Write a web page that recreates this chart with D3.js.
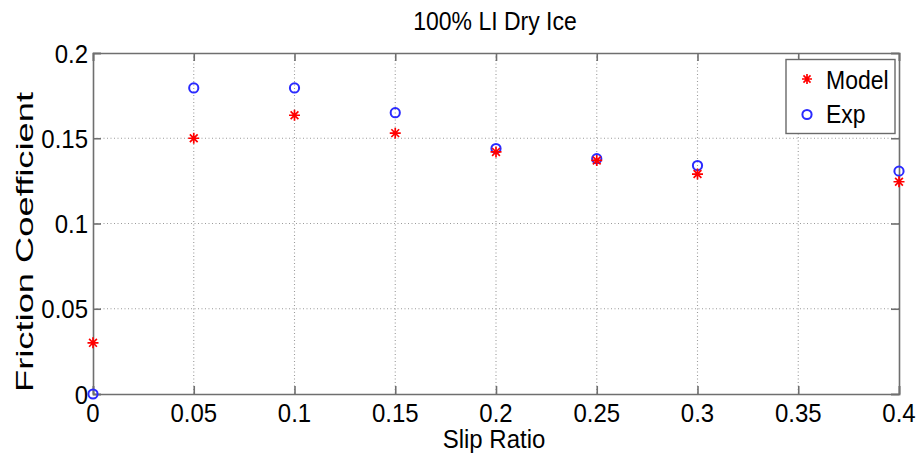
<!DOCTYPE html>
<html>
<head>
<meta charset="utf-8">
<script src="https://cdn.jsdelivr.net/npm/d3@7"></script>
<style>
  html, body { margin: 0; padding: 0; background: #fff; }
  svg { display: block; }
  text { font-family: Arial, "Liberation Sans", Helvetica, sans-serif; fill: #000; }
</style>
</head>
<body>
<svg id="chart" width="919" height="458"></svg>
<script>
// Slip ratio samples and friction coefficients
const slipRatio = [0, 0.05, 0.1, 0.15, 0.2, 0.25, 0.3, 0.4];
const modelValues = [0.030, 0.150, 0.1635, 0.153, 0.142, 0.137, 0.129, 0.1245];
const expValues = [0.000, 0.1795, 0.1795, 0.165, 0.144, 0.138, 0.134, 0.1307];
const xTicks = [0, 0.05, 0.1, 0.15, 0.2, 0.25, 0.3, 0.35, 0.4];
const xTickLabels = ["0", "0.05", "0.1", "0.15", "0.2", "0.25", "0.3", "0.35", "0.4"];
const yTicks = [0, 0.05, 0.1, 0.15, 0.2];
const yTickLabels = ["0", "0.05", "0.1", "0.15", "0.2"];
const seriesNames = ["Model", "Exp"];
const titleText = "100% LI Dry Ice";
const xLabelText = "Slip Ratio";
const yLabelText = "Friction Coefficient";

const svg = d3.select("#chart");
const plot = { left: 93, right: 899, top: 53, bottom: 394 };
const vStretch = 1.1;

const x = d3.scaleLinear().domain([0, 0.4]).range([plot.left, plot.right]);
const y = d3.scaleLinear().domain([0, 0.2]).range([plot.bottom, plot.top]);

const axisColor = "#6f6f6f";
const gridColor = "#9a9a9a";

// dotted grid
const grid = svg.append("g");
grid.selectAll("line.gx").data(xTicks.slice(1, -1)).join("line")
  .attr("x1", d => x(d)).attr("x2", d => x(d))
  .attr("y1", plot.top).attr("y2", plot.bottom)
  .attr("stroke", gridColor).attr("stroke-width", 1.1).attr("stroke-dasharray", "1,2.5");
grid.selectAll("line.gy").data(yTicks.slice(1, -1)).join("line")
  .attr("x1", plot.left).attr("x2", plot.right)
  .attr("y1", d => y(d)).attr("y2", d => y(d))
  .attr("stroke", gridColor).attr("stroke-width", 1.1).attr("stroke-dasharray", "1,2.5");

// axes with inward ticks on all four sides
const tickLen = 8;
const bottomAxis = d3.axisBottom(x).tickValues(xTicks).tickSize(-tickLen).tickFormat("");
const topAxis = d3.axisTop(x).tickValues(xTicks).tickSize(-tickLen).tickFormat("");
const leftAxis = d3.axisLeft(y).tickValues(yTicks).tickSize(-tickLen).tickFormat("");
const rightAxis = d3.axisRight(y).tickValues(yTicks).tickSize(-tickLen).tickFormat("");

function styleAxis(g) {
  g.selectAll("path").attr("stroke", axisColor).attr("stroke-width", 1.6);
  g.selectAll("line").attr("stroke", axisColor).attr("stroke-width", 1.6);
}
svg.append("g").attr("transform", `translate(0,${plot.bottom})`).call(bottomAxis).call(styleAxis);
svg.append("g").attr("transform", `translate(0,${plot.top})`).call(topAxis).call(styleAxis);
svg.append("g").attr("transform", `translate(${plot.left},0)`).call(leftAxis).call(styleAxis);
svg.append("g").attr("transform", `translate(${plot.right},0)`).call(rightAxis).call(styleAxis);

// tick labels
svg.append("g").selectAll("text").data(xTicks).join("text")
  .attr("text-anchor", "middle")
  .attr("font-size", 24)
  .attr("transform", d => `translate(${x(d)},421.5) scale(1,${vStretch})`)
  .text((d, i) => xTickLabels[i]);
svg.append("g").selectAll("text").data(yTicks).join("text")
  .attr("text-anchor", "end")
  .attr("font-size", 24)
  .attr("transform", d => `translate(88,${y(d) + 9.5}) scale(1,${vStretch})`)
  .text((d, i) => yTickLabels[i]);

// title and axis labels
svg.append("text").attr("text-anchor", "middle").attr("font-size", 23)
  .attr("transform", `translate(495,30) scale(1,${vStretch})`).text(titleText);
svg.append("text").attr("text-anchor", "middle").attr("font-size", 24)
  .attr("transform", `translate(494,448) scale(1,${vStretch})`).text(xLabelText);
svg.append("text").attr("text-anchor", "middle").attr("font-size", 24.5)
  .attr("textLength", 300).attr("lengthAdjust", "spacingAndGlyphs")
  .attr("transform", `translate(33,242) rotate(-90)`).text(yLabelText);

// marker drawers
const red = "#ff0000";
const blue = "#2a2aff";
function asterisk(g, cx, cy, s) {
  const d = s * 0.707;
  const p = `M${cx - s},${cy}L${cx + s},${cy}M${cx},${cy - s}L${cx},${cy + s}` +
            `M${cx - d},${cy - d}L${cx + d},${cy + d}M${cx - d},${cy + d}L${cx + d},${cy - d}`;
  g.append("path").attr("d", p).attr("stroke", red).attr("stroke-width", 1.7).attr("fill", "none");
}
function circleMark(g, cx, cy) {
  g.append("circle").attr("cx", cx).attr("cy", cy).attr("r", 4.6)
    .attr("fill", "none").attr("stroke", blue).attr("stroke-width", 2);
}

// data markers
const marks = svg.append("g");
slipRatio.forEach((s, i) => circleMark(marks, x(s), y(expValues[i])));
slipRatio.forEach((s, i) => asterisk(marks, x(s), y(modelValues[i]), 5.5));

// legend
const legend = svg.append("g");
legend.append("rect").attr("x", 786).attr("y", 59.5).attr("width", 109).attr("height", 74)
  .attr("fill", "#fff").attr("stroke", "#6a6a6a").attr("stroke-width", 1.4);
asterisk(legend, 807, 79, 5);
circleMark(legend, 807, 114.5);
legend.append("text").attr("font-size", 23)
  .attr("transform", `translate(826,88.5) scale(1,1.15)`).text(seriesNames[0]);
legend.append("text").attr("font-size", 23)
  .attr("transform", `translate(826,122.5) scale(1,1.15)`).text(seriesNames[1]);
</script>
</body>
</html>
